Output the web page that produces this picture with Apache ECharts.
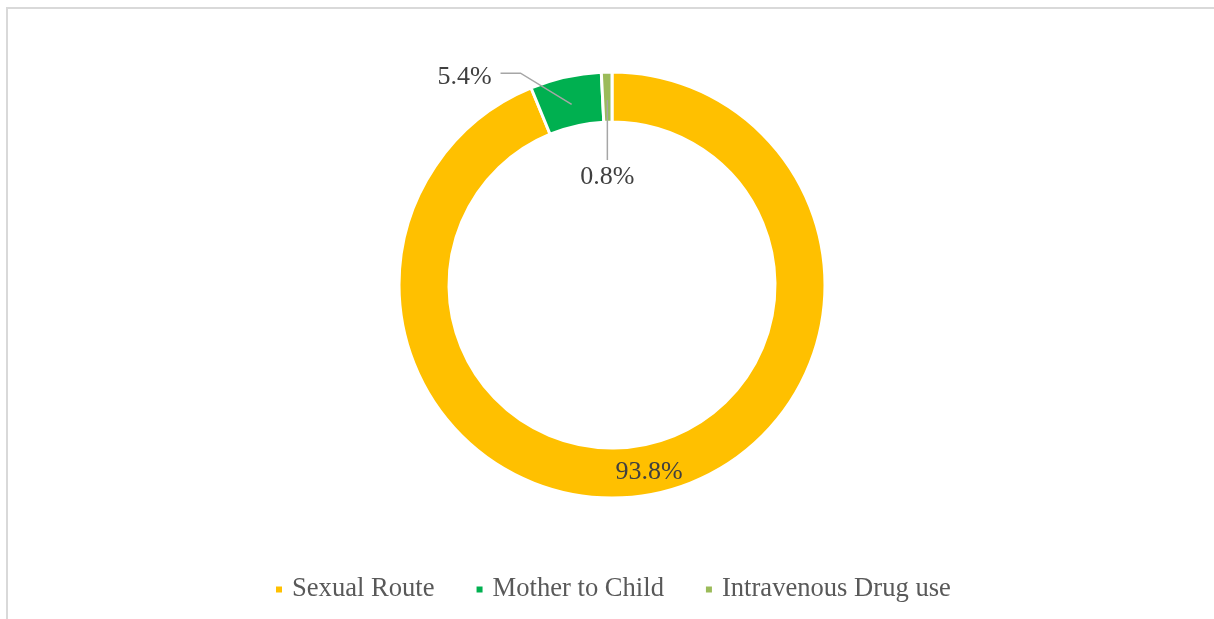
<!DOCTYPE html>
<html>
<head>
<meta charset="utf-8">
<script src="https://cdn.jsdelivr.net/npm/echarts@6/dist/echarts.min.js"></script>
<style>
  html, body { margin: 0; padding: 0; background: #fff; }
  #frame {
    position: absolute;
    left: 6px;
    top: 7px;
    right: 0;
    bottom: 0;
    border-top: 2px solid #d9d9d9;
    border-left: 2px solid #d9d9d9;
  }
  #chartDom {
    position: absolute;
    left: 0;
    top: 0;
    width: 1214px;
    height: 619px;
  }
</style>
</head>
<body>
<div id="frame"></div>
<div id="chartDom"></div>
<script>
// transmission routes, share in %
const categories = ['Sexual Route', 'Mother to Child', 'Intravenous Drug use'];
const shares = [93.8, 5.4, 0.8];
const colors = ['#FFC000', '#00B050', '#9BBB59'];

const chart = echarts.init(document.getElementById('chartDom'));
const cx = 612, cy = 285;
const rIn = 163, rOut = 213;

// move a point toward the centre by d pixels
function inward (p, d) {
  const vx = p[0] - cx, vy = p[1] - cy;
  const len = Math.sqrt(vx * vx + vy * vy);
  return [p[0] - vx / len * d, p[1] - vy / len * d];
}

const data = categories.map((name, i) => {
  const item = { name: name, value: shares[i], itemStyle: { color: colors[i] } };
  if (i === 0) {
    item.label = { position: 'inside' };
    item.labelLine = { show: false };
  } else {
    item.label = { position: 'outside' };
    item.labelLine = { show: true };
  }
  return item;
});

const option = {
  animation: false,
  legend: {
    bottom: 11,
    left: 269,
    itemWidth: 8,
    itemHeight: 8,
    itemGap: 40,
    icon: 'rect',
    textStyle: {
      fontFamily: 'Liberation Serif',
      fontSize: 26.6,
      color: '#595959',
      padding: [0, 0, 0, 4]
    },
    data: categories
  },
  series: [{
    type: 'pie',
    center: [cx, cy],
    radius: [rIn, rOut],
    startAngle: 90,
    clockwise: true,
    avoidLabelOverlap: false,
    itemStyle: { borderColor: '#fff', borderWidth: 3 },
    label: {
      show: true,
      formatter: p => p.value.toFixed(1) + '%',
      fontFamily: 'Liberation Serif',
      fontSize: 26,
      color: '#404040'
    },
    labelLine: {
      showAbove: true,
      lineStyle: { color: '#a6a6a6', width: 1.5 }
    },
    labelLayout: function (params) {
      const pts = params.labelLinePoints;
      if (!pts) return {};
      const edge = pts[0];
      if (params.dataIndex === 1) {
        const start = inward(edge, 28);
        const bend = [edge[0] - 45, edge[1] - 4];
        const end = [bend[0] - 20, bend[1]];
        return {
          x: end[0] - 9,
          y: end[1] + 4,
          align: 'right',
          verticalAlign: 'middle',
          labelLinePoints: [start, bend, end]
        };
      }
      if (params.dataIndex === 2) {
        const start = inward(edge, 28);
        const end = [start[0], start[1] + 60];
        return {
          x: start[0],
          y: end[1] + 17,
          align: 'center',
          verticalAlign: 'middle',
          labelLinePoints: [start, end, end]
        };
      }
      return {};
    },
    data: data
  }]
};

chart.setOption(option);

// leader lines should sit on top of the ring, like the original
const zr = chart.getZr();
zr.storage.getDisplayList(true).forEach(el => {
  if (el.type === 'polyline') {
    el.z2 = 1000;
    el.markRedraw();
  }
});
zr.refreshImmediately();
</script>
</body>
</html>
